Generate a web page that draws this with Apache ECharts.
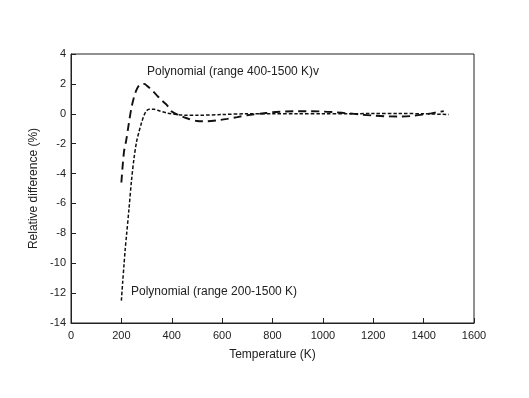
<!DOCTYPE html>
<html>
<head>
<meta charset="utf-8">
<script src="https://cdn.jsdelivr.net/npm/echarts@6/dist/echarts.min.js"></script>
<style>
  html, body { margin: 0; padding: 0; background: #fff; }
  #chart { width: 529px; height: 398px; }
</style>
</head>
<body>
<div id="chart"></div>
<script>
// fit over 400-1500 K (long dash)
var tempFit400 = [200, 210, 220, 230, 240, 250, 260, 270, 280, 290, 300, 320, 340, 360, 380, 400, 430, 460, 500, 540, 580, 620, 660, 700, 750, 800, 850, 900, 950, 1000, 1050, 1100, 1150, 1200, 1250, 1300, 1350, 1400, 1430, 1460, 1480];
var diffFit400 = [-4.6, -2.6, -1.7, -0.6, 0.4, 1.1, 1.6, 1.9, 2.0, 2.0, 1.9, 1.6, 1.25, 0.9, 0.6, 0.15, -0.1, -0.3, -0.48, -0.5, -0.44, -0.34, -0.22, -0.1, 0.0, 0.1, 0.15, 0.17, 0.17, 0.15, 0.1, 0.03, -0.05, -0.12, -0.17, -0.18, -0.15, -0.05, 0.03, 0.12, 0.18];
// fit over 200-1500 K (short dash)
var tempFit200 = [200, 205, 210, 215, 220, 230, 240, 250, 260, 270, 280, 290, 300, 310, 330, 350, 380, 420, 460, 500, 600, 700, 800, 900, 1000, 1100, 1200, 1300, 1400, 1500];
var diffFit200 = [-12.5, -11.3, -10.2, -9.1, -8.2, -6.4, -4.5, -3.0, -1.9, -1.2, -0.6, -0.1, 0.2, 0.3, 0.3, 0.2, 0.05, -0.05, -0.1, -0.1, -0.05, 0, 0, 0, 0, 0, 0.02, 0.02, 0, -0.05];

var xTicks = [0, 1600, 200];
var yTicks = [-14, 4, 2];

var pairs = function (xs, ys) {
    var out = [];
    for (var i = 0; i < xs.length; i++) {
        out.push([xs[i], ys[i]]);
    }
    return out;
};

var font = 'Liberation Sans, Arial, Helvetica, sans-serif';
var myChart = echarts.init(document.getElementById('chart'));
myChart.setOption({
    animation: false,
    grid: {
        left: 71,
        right: 55,
        top: 54,
        bottom: 75,
        show: true,
        borderColor: '#222',
        borderWidth: 1
    },
    xAxis: {
        type: 'value',
        min: xTicks[0],
        max: xTicks[1],
        interval: xTicks[2],
        name: 'Temperature (K)',
        nameLocation: 'middle',
        nameGap: 26,
        nameTextStyle: { color: '#222', fontSize: 12, fontFamily: font },
        axisLine: { onZero: false, lineStyle: { color: '#222' } },
        axisTick: { inside: true, length: 5, lineStyle: { color: '#222' } },
        axisLabel: {
            color: '#222', fontSize: 11, fontFamily: font, margin: 7,
            formatter: function (v) { return String(v); }
        },
        splitLine: { show: false }
    },
    yAxis: {
        type: 'value',
        min: yTicks[0],
        max: yTicks[1],
        interval: yTicks[2],
        name: 'Relative difference (%)',
        nameLocation: 'middle',
        nameGap: 18,
        nameTextStyle: { color: '#222', fontSize: 12, fontFamily: font },
        axisLine: { onZero: false, lineStyle: { color: '#222' } },
        axisTick: { inside: true, length: 5, lineStyle: { color: '#222' } },
        axisLabel: { color: '#222', fontSize: 11, fontFamily: font, margin: 5 },
        splitLine: { show: false }
    },
    series: [
        {
            name: 'Polynomial (range 400-1500 K)',
            type: 'line',
            smooth: 0.3,
            symbol: 'none',
            lineStyle: { color: '#111', width: 1.9, type: [8, 5] },
            data: pairs(tempFit400, diffFit400)
        },
        {
            name: 'Polynomial (range 200-1500 K)',
            type: 'line',
            smooth: 0.3,
            symbol: 'none',
            lineStyle: { color: '#111', width: 1.5, type: [3.5, 2] },
            data: pairs(tempFit200, diffFit200)
        }
    ],
    graphic: [
        {
            type: 'text', left: 147, top: 66,
            style: { text: 'Polynomial (range 400-1500 K)v', fill: '#222', font: '12px ' + font }
        },
        {
            type: 'text', left: 131, top: 286,
            style: { text: 'Polynomial (range 200-1500 K)', fill: '#222', font: '12px ' + font }
        }
    ]
});
window.onresize = myChart.resize;
</script>
</body>
</html>
